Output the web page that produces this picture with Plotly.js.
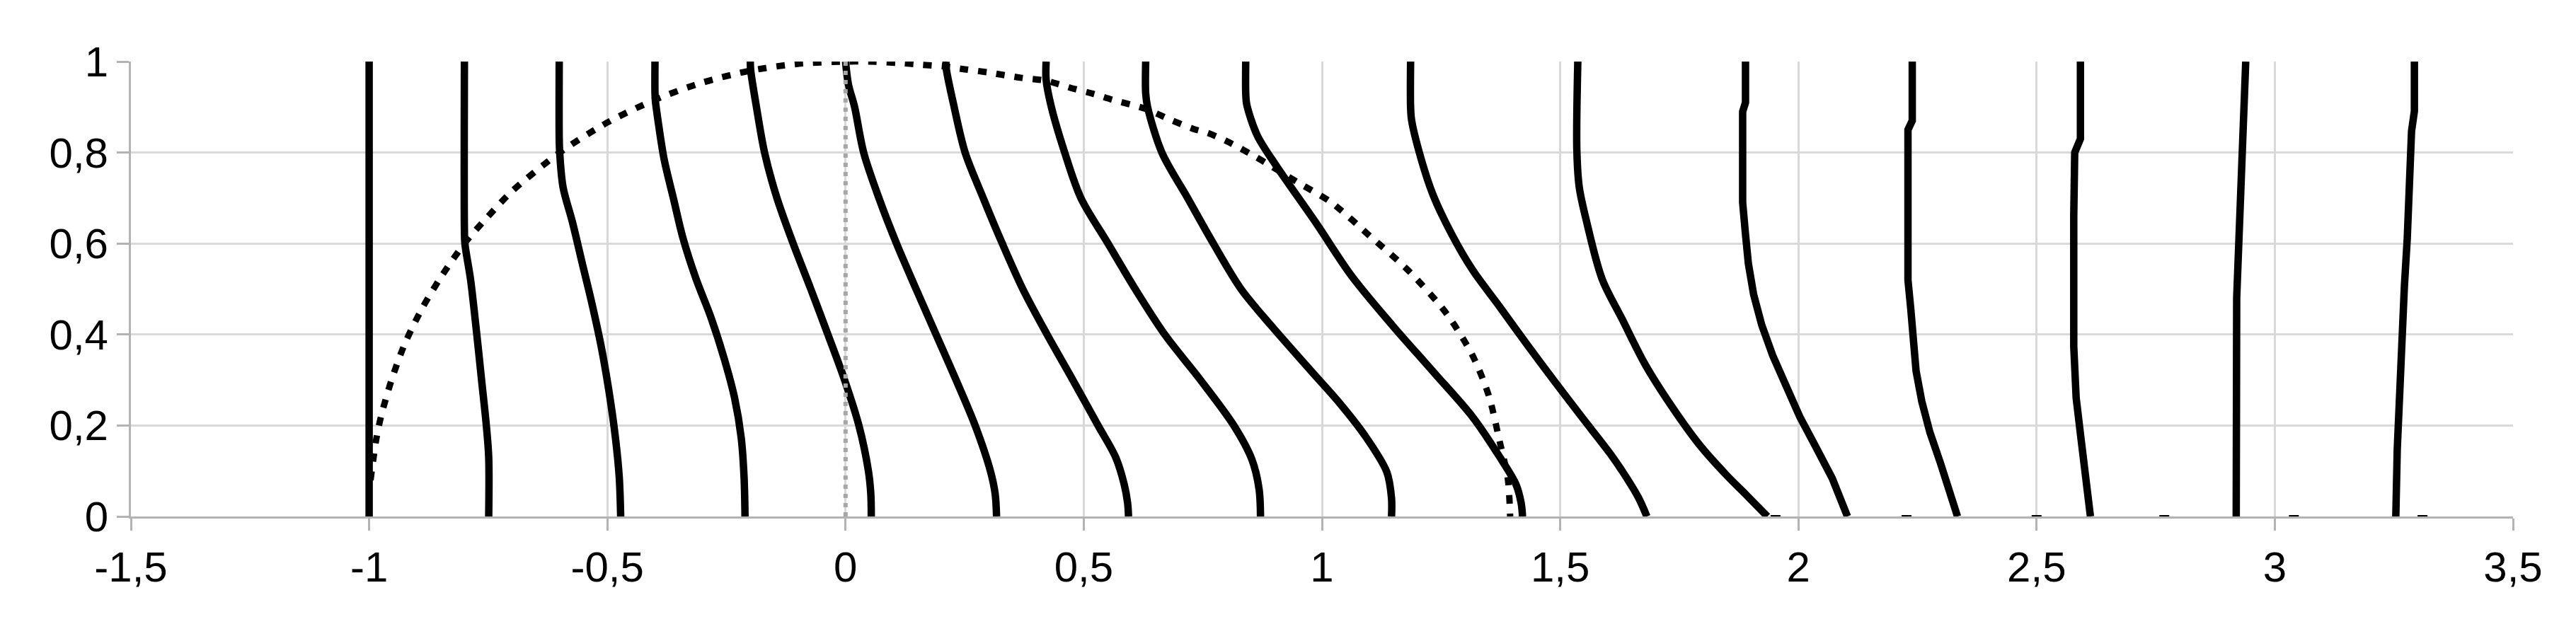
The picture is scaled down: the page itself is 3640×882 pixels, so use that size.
<!DOCTYPE html>
<html>
<head>
<meta charset="utf-8">
<script src="https://cdn.plot.ly/plotly-3.0.1.min.js"></script>
<style>
html,body{margin:0;padding:0;background:#ffffff;}
#chart{width:3640px;height:882px;}
</style>
</head>
<body>
<div id="chart"></div>
<script>
// ---- tick labels ----
const xTickVals = [-1.5, -1, -0.5, 0, 0.5, 1, 1.5, 2, 2.5, 3, 3.5];
const xTickText = ["-1,5", "-1", "-0,5", "0", "0,5", "1", "1,5", "2", "2,5", "3", "3,5"];
const yTickVals = [0, 0.2, 0.4, 0.6, 0.8, 1];
const yTickText = ["0", "0,2", "0,4", "0,6", "0,8", "1"];

// ---- solid curves (x values, y values) ----
const c01x = [-1.000, -1.000];
const c01y = [1, 0];
const c02x = [-0.800, -0.800, -0.799, -0.787, -0.774, -0.764, -0.754, -0.749, -0.749];
const c02y = [1, 0.63, 0.6, 0.52, 0.4, 0.3, 0.2, 0.13, 0];
const c03x = [-0.601, -0.601, -0.600, -0.593, -0.573, -0.553, -0.533, -0.513, -0.497, -0.483, -0.475, -0.472];
const c03y = [1, 0.83, 0.8, 0.724, 0.646, 0.558, 0.471, 0.374, 0.278, 0.173, 0.086, 0];
const c04x = [-0.400, -0.400, -0.399, -0.394, -0.381, -0.361, -0.341, -0.314, -0.282, -0.255, -0.233, -0.219, -0.213, -0.211];
const c04y = [1, 0.93, 0.912, 0.873, 0.786, 0.698, 0.611, 0.523, 0.436, 0.348, 0.261, 0.173, 0.086, 0];
const c05x = [-0.200, -0.199, -0.187, -0.170, -0.144, -0.110, -0.073, -0.037, -0.002, 0.028, 0.048, 0.053, 0.054];
const c05y = [1, 0.98, 0.9, 0.8, 0.7, 0.6, 0.5, 0.4, 0.3, 0.2, 0.1, 0.05, 0];
const c06x = [0.000, 0.006, 0.019, 0.038, 0.070, 0.107, 0.148, 0.190, 0.232, 0.272, 0.304, 0.314, 0.317];
const c06y = [1, 0.95, 0.9, 0.8, 0.7, 0.6, 0.5, 0.4, 0.3, 0.2, 0.1, 0.05, 0];
const c07x = [0.211, 0.211, 0.228, 0.251, 0.289, 0.329, 0.372, 0.423, 0.477, 0.530, 0.567, 0.585, 0.592, 0.594];
const c07y = [1, 0.987, 0.9, 0.8, 0.7, 0.6, 0.5, 0.4, 0.3, 0.2, 0.13, 0.07, 0.03, 0];
const c08x = [0.421, 0.421, 0.432, 0.460, 0.494, 0.551, 0.608, 0.670, 0.745, 0.815, 0.853, 0.868, 0.871];
const c08y = [1, 0.96, 0.9, 0.8, 0.7, 0.6, 0.5, 0.4, 0.3, 0.2, 0.125, 0.06, 0];
const c09x = [0.630, 0.630, 0.634, 0.664, 0.718, 0.772, 0.830, 0.893, 0.977, 1.034, 1.090, 1.136, 1.146, 1.146];
const c09y = [1, 0.93, 0.9, 0.8, 0.7, 0.6, 0.5, 0.42, 0.32, 0.253, 0.178, 0.098, 0.04, 0];
const c10x = [0.840, 0.840, 0.842, 0.864, 0.904, 0.989, 1.062, 1.147, 1.232, 1.316, 1.373, 1.407, 1.418, 1.421];
const c10y = [1, 0.93, 0.906, 0.838, 0.771, 0.643, 0.529, 0.421, 0.320, 0.219, 0.131, 0.071, 0.03, 0];
const c11x = [1.186, 1.186, 1.188, 1.203, 1.232, 1.271, 1.316, 1.373, 1.429, 1.486, 1.545, 1.605, 1.640, 1.665, 1.682];
const c11y = [1, 0.9, 0.872, 0.805, 0.710, 0.623, 0.542, 0.461, 0.380, 0.300, 0.219, 0.138, 0.084, 0.04, 0];
const c12x = [1.537, 1.535, 1.540, 1.555, 1.588, 1.630, 1.679, 1.736, 1.792, 1.849, 1.890, 1.918, 1.935];
const c12y = [1, 0.805, 0.724, 0.650, 0.522, 0.434, 0.333, 0.239, 0.158, 0.091, 0.048, 0.018, 0];
const c13x = [1.889, 1.889, 1.883, 1.883, 1.889, 1.895, 1.906, 1.923, 1.946, 1.974, 2.003, 2.037, 2.071, 2.103];
const c13y = [1, 0.91, 0.89, 0.69, 0.62, 0.556, 0.488, 0.421, 0.354, 0.286, 0.219, 0.152, 0.084, 0];
const c14x = [2.239, 2.239, 2.230, 2.230, 2.236, 2.242, 2.247, 2.259, 2.276, 2.298, 2.321, 2.334];
const c14y = [1, 0.87, 0.85, 0.52, 0.455, 0.387, 0.32, 0.253, 0.185, 0.118, 0.05, 0];
const c15x = [2.592, 2.592, 2.580, 2.578, 2.578, 2.583, 2.593, 2.603, 2.613];
const c15y = [1, 0.83, 0.80, 0.66, 0.374, 0.261, 0.173, 0.086, 0];
const c16x = [2.939, 2.936, 2.931, 2.926, 2.920, 2.919];
const c16y = [1, 0.9, 0.76, 0.63, 0.48, 0];
const c17x = [3.293, 3.293, 3.287, 3.284, 3.278, 3.272, 3.266, 3.263, 3.257, 3.254];
const c17y = [1, 0.891, 0.847, 0.742, 0.611, 0.506, 0.392, 0.274, 0.147, 0];

// ---- dotted boundary curve ----
const boundaryX = [-0.997, -0.985, -0.975, -0.953, -0.925, -0.890, -0.850, -0.800, -0.750, -0.700, -0.600, -0.500, -0.400, -0.300, -0.200, -0.100, 0.000,
                   0.050, 0.110, 0.160, 0.210, 0.250, 0.300, 0.370, 0.420, 0.480, 0.520, 0.560, 0.630, 0.680, 0.730, 0.760, 0.800, 0.860, 0.950, 1.020, 1.100, 1.180, 1.260, 1.316, 1.350, 1.373, 1.390, 1.395];
const boundaryY = [0.080, 0.170, 0.220, 0.300, 0.380, 0.455, 0.525, 0.600, 0.660, 0.715, 0.800, 0.866, 0.916, 0.954, 0.980, 0.995, 1.000,
                   1.000, 0.997, 0.993, 0.989, 0.983, 0.976, 0.964, 0.958, 0.940, 0.929, 0.916, 0.896, 0.873, 0.852, 0.843, 0.825, 0.791, 0.734, 0.690, 0.617, 0.542, 0.448, 0.354, 0.266, 0.165, 0.084, 0.000];

// ---- gray dotted reference line ----
const refX = [0, 0];
const refY = [0, 1];

// ---- small marks on the x axis ----
const markX = [1.952, 2.227, 2.500, 2.768, 3.040, 3.310];
const markY = [0, 0, 0, 0, 0, 0];

const smoothCurves = [
  [c02x, c02y], [c03x, c03y], [c04x, c04y], [c05x, c05y], [c06x, c06y],
  [c07x, c07y], [c08x, c08y], [c09x, c09y], [c10x, c10y], [c11x, c11y], [c12x, c12y]
];
const straightCurves = [
  [c01x, c01y], [c13x, c13y], [c14x, c14y], [c15x, c15y], [c16x, c16y], [c17x, c17y]
];

const traces = [];
straightCurves.forEach(function (c) {
  traces.push({
    x: c[0], y: c[1], type: 'scatter', mode: 'lines',
    line: {color: '#000000', width: 10.5},
    hoverinfo: 'skip', showlegend: false
  });
});
smoothCurves.forEach(function (c) {
  traces.push({
    x: c[0], y: c[1], type: 'scatter', mode: 'lines',
    line: {color: '#000000', width: 10.5, shape: 'spline', smoothing: 0.9},
    hoverinfo: 'skip', showlegend: false
  });
});

traces.push({
  x: boundaryX, y: boundaryY, type: 'scatter', mode: 'lines',
  line: {color: '#000000', width: 9, dash: '12px,14px', shape: 'spline', smoothing: 0.8},
  hoverinfo: 'skip', showlegend: false
});

traces.push({
  x: markX, y: markY, type: 'scatter', mode: 'markers',
  marker: {symbol: 'line-ew', size: 10, color: '#000000', line: {color: '#000000', width: 4}},
  hoverinfo: 'skip', showlegend: false, cliponaxis: false
});

traces.push({
  x: refX, y: refY, type: 'scatter', mode: 'lines',
  line: {color: '#a6a6a6', width: 6, dash: '6px,7px'},
  hoverinfo: 'skip', showlegend: false
});

const tickFont = {family: '"Liberation Sans", Arial, sans-serif', size: 60, color: '#000000'};

const layout = {
  width: 3640, height: 882,
  margin: {l: 185, r: 89, t: 87, b: 152, pad: 0},
  paper_bgcolor: '#ffffff', plot_bgcolor: '#ffffff',
  showlegend: false,
  xaxis: {
    range: [-1.5, 3.5], tickmode: 'array', tickvals: xTickVals, ticktext: xTickText,
    showgrid: true, gridcolor: '#d9d9d9', gridwidth: 3, zeroline: false,
    showline: true, linecolor: '#b3b3b3', linewidth: 3,
    ticks: 'outside', ticklen: 17, tickwidth: 3, tickcolor: '#b3b3b3',
    tickfont: tickFont, fixedrange: true
  },
  yaxis: {
    range: [0, 1], tickmode: 'array', tickvals: yTickVals, ticktext: yTickText,
    showgrid: true, gridcolor: '#d9d9d9', gridwidth: 3, zeroline: false,
    showline: true, linecolor: '#b3b3b3', linewidth: 3,
    ticks: 'outside', ticklen: 17, tickwidth: 3, tickcolor: '#b3b3b3',
    tickfont: tickFont, fixedrange: true
  }
};

Plotly.newPlot('chart', traces, layout, {staticPlot: true, displayModeBar: false});
</script>
</body>
</html>
